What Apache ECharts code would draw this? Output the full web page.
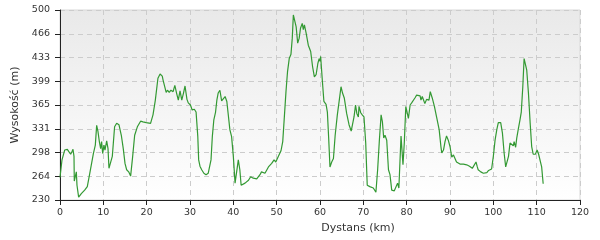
<!DOCTYPE html>
<html><head><meta charset="utf-8">
<script src="https://cdn.jsdelivr.net/npm/echarts@6/dist/echarts.min.js"></script>
<style>html,body{margin:0;padding:0;background:#fff}#c{width:600px;height:240px}</style>
</head><body><div id="c"></div>
<script>
const DIST = [0,0.46,1.08,1.69,2.0,2.3,2.46,2.77,3.0,3.23,3.3,3.54,3.77,3.92,4.3,4.92,5.69,6.3,6.85,7.23,7.7,8.15,8.46,8.77,9.08,9.38,9.6,9.85,10.15,10.38,10.77,11.08,11.3,11.6,12.07,12.6,13.08,13.6,14.15,14.6,15.0,15.38,15.85,16.3,16.77,17.23,17.85,18.6,19.15,19.9,20.9,21.46,22.0,22.6,23.1,23.6,23.8,24.1,24.5,24.8,25.2,25.6,26.1,26.5,26.9,27.3,27.7,28.1,28.5,28.85,29.3,29.6,30.1,30.5,31.0,31.4,31.8,32.0,32.3,32.7,33.2,33.7,34.2,34.6,34.85,35.15,35.5,35.9,36.2,36.5,36.9,37.3,37.7,38.1,38.5,38.8,39.2,39.6,40.0,40.4,40.7,41.15,41.5,41.8,42.2,42.7,43.5,44.0,44.2,44.6,45.4,46.15,46.5,46.9,47.3,48.1,48.85,49.4,49.8,50.4,51.0,51.4,51.75,52.15,52.5,52.9,53.3,53.6,53.85,54.2,54.5,54.85,55.2,55.5,55.9,56.15,56.4,56.8,57.3,57.85,58.3,58.7,59.1,59.5,59.8,60.0,60.15,60.5,60.9,61.4,61.7,62.0,62.3,62.7,63.1,63.5,64.0,64.45,64.85,65.2,65.6,66.15,66.7,67.2,67.5,67.85,68.2,68.5,68.85,69.0,69.4,69.75,70.15,70.55,70.9,71.5,72.3,72.9,73.3,73.7,74.1,74.4,74.7,75.0,75.4,75.8,76.15,76.55,77.15,77.5,77.9,78.2,78.7,79.15,79.45,79.8,80.0,80.4,80.8,81.15,81.5,81.9,82.3,82.7,83.1,83.3,83.6,83.9,84.2,84.6,85.15,85.45,85.9,86.4,86.9,87.5,87.9,88.1,88.5,88.85,89.2,89.6,90.0,90.4,90.8,91.15,91.5,91.9,92.3,93.1,93.85,94.5,94.8,95.15,95.5,96.0,96.3,96.5,97.1,97.7,98.5,98.9,99.2,99.6,100.0,100.4,100.8,101.15,101.7,102.1,102.5,102.85,103.2,103.5,103.85,104.2,104.6,104.8,105.15,105.4,105.8,106.15,106.45,106.8,107.1,107.4,107.7,108.1,108.5,108.85,109.2,109.7,110.1,110.45,110.8,111.15,111.5];
const ELEV = [262,287,301,302,299,301,295,299,302,292,257,257,270,251,234,239,244,249,267,266,296,308,336,327,313,303,313,296,308,301,314,303,275,273,292,334,339,337,322,303,282,273,270,264,292,322,334,342,341,340,339,351,372,403,409,406,400,401,383,386,383,386,384,393,382,372,385,372,382,392,373,368,365,358,359,355,320,287,278,273,268,266,268,266,287,320,344,355,372,382,386,371,373,377,370,353,330,320,292,254,256,287,273,251,250,254,258,263,265,261,260,266,270,268,268,277,282,287,284,292,300,313,346,384,412,431,437,460,493,494,476,453,460,474,481,472,479,467,450,441,419,405,408,424,431,427,434,403,370,366,355,318,277,284,289,322,351,372,391,382,375,353,337,328,330,348,365,353,348,363,354,351,348,311,251,249,247,241,273,315,351,341,318,322,315,273,266,244,243,244,254,247,321,280,311,363,365,346,365,368,366,375,379,381,378,372,377,379,367,373,372,384,375,363,348,330,306,297,301,313,321,315,306,291,294,293,284,283,281,281,280,278,279,275,277,284,277,273,270,268,269,272,270,274,292,315,330,340,340,325,296,277,275,292,311,311,307,313,305,318,332,344,355,391,431,433,415,382,339,306,295,295,301,295,294,277,253];
const Y_TICKS = [230,263.75,297.5,331.25,365,398.75,432.5,466.25,500];
const Y_LABELS = ['230','264','298','331','365','399','433','466','500'];
const X_TICKS = [0,10,20,30,40,50,60,70,80,90,100,110,120];
const X_NAME = 'Dystans (km)';
const Y_NAME = 'Wysokość (m)';

const chart = echarts.init(document.getElementById('c'), null, {renderer:'canvas'});
const FONT = 'DejaVu Sans';
const data = DIST.map((d,i)=>[d, ELEV[i]]);
chart.setOption({
  animation:false,
  grid:{left:60,right:20,top:10,bottom:40,show:true,borderColor:'#d8d8d8',borderWidth:1,
    backgroundColor:new echarts.graphic.LinearGradient(0,0,0,1,[{offset:0,color:'#e9e9e9'},{offset:1,color:'#ffffff'}])},
  xAxis:{type:'value',min:X_TICKS[0],max:X_TICKS[X_TICKS.length-1],interval:10,
    name:X_NAME,nameLocation:'middle',nameGap:21,
    nameTextStyle:{fontFamily:FONT,fontSize:11,color:'#333',padding:[0,0,0,76]},
    axisLine:{lineStyle:{color:'#222',width:1}},
    axisTick:{show:true,length:5,lineStyle:{color:'#222'}},
    axisLabel:{fontFamily:FONT,fontSize:9.5,color:'#333',margin:8},
    splitLine:{show:true,lineStyle:{color:'#cccccc',type:[5,4],width:1}}},
  yAxis:{type:'value',min:230,max:500,
    name:Y_NAME,nameLocation:'middle',nameGap:36,nameRotate:90,
    nameTextStyle:{fontFamily:FONT,fontSize:11,color:'#333'},
    axisLine:{show:true,lineStyle:{color:'#222',width:1}},
    axisTick:{show:true,length:5,customValues:Y_TICKS,lineStyle:{color:'#222'}},
    axisLabel:{fontFamily:FONT,fontSize:9.5,color:'#333',margin:10,customValues:Y_TICKS,
      formatter:v=>{const i=Y_TICKS.findIndex(t=>Math.abs(t-v)<1e-6);return i>=0?Y_LABELS[i]:'';}},
    splitLine:{show:true,lineStyle:{color:'#cccccc',type:[5,4],width:1}}},
  series:[{type:'line',data:data,showSymbol:false,smooth:false,
    lineStyle:{color:'#339933',width:1.2},itemStyle:{color:'#339933'}}]
});
</script></body></html>
